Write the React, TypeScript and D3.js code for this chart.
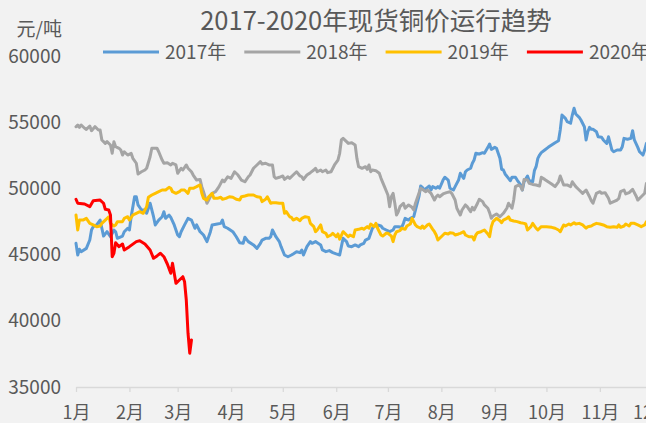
import React, { useRef, useEffect } from 'react';
import * as d3 from 'd3';

const chartTitle = '2017-2020年现货铜价运行趋势';
const unitLabel = '元/吨';
const seriesNames = ['2017年', '2018年', '2019年', '2020年'];
const seriesColors = ['#5b9bd5', '#a5a5a5', '#ffc000', '#ff0000'];
const yTicks = [35000, 40000, 45000, 50000, 55000, 60000];

// [day of year (from Jan 1), spot copper price]
const price2017: [number, number][] = [
  [0, 45850], [1, 44970], [2, 45400], [3, 45220], [6, 45470], [8, 46100], [9, 46860], [10, 47110], [12, 47240], [14, 47610],
  [15, 46990], [16, 46400], [18, 46730], [20, 46350], [22, 46860], [23, 46730], [24, 46230], [27, 46400], [28, 46730], [30, 46990],
  [31, 46860], [32, 47860], [34, 49370], [35, 49370], [36, 48750], [38, 48370], [40, 48370], [41, 48120], [43, 48880], [45, 47860],
  [46, 47240], [48, 47610], [50, 47860], [51, 48240], [52, 47740], [54, 47990], [55, 47810], [57, 47240], [59, 46480], [60, 46350],
  [61, 46730], [63, 47240], [65, 47740], [67, 47610], [69, 46990], [70, 47240], [72, 46730], [74, 46480], [76, 45980], [78, 46730],
  [79, 47240], [82, 47310], [84, 47360], [85, 47610], [86, 47110], [88, 46990], [91, 46730], [93, 46350], [95, 45900], [97, 45850],
  [98, 46310], [100, 45980], [103, 45730], [105, 45470], [107, 45850], [108, 46100], [110, 46230], [112, 46230], [113, 46350], [114, 46860],
  [116, 46350], [118, 45980], [119, 45600], [121, 44970], [123, 44840], [125, 44970], [126, 45050], [128, 45220], [130, 45150], [131, 45350],
  [132, 44970], [134, 45600], [136, 45980], [137, 45850], [139, 45980], [140, 45900], [142, 45730], [143, 45350], [145, 45220], [147, 45300],
  [149, 45150], [151, 45050], [153, 44970], [154, 45600], [155, 46230], [157, 45980], [158, 45650], [160, 45600], [162, 45730], [164, 45600],
  [165, 45730], [167, 45850], [168, 46100], [170, 46230], [171, 46610], [172, 46990], [174, 47240], [175, 47240], [177, 47160], [178, 46990],
  [180, 46860], [182, 46730], [184, 46860], [185, 47110], [187, 47110], [189, 47060], [190, 47360], [191, 47740], [193, 47610], [194, 47740],
  [196, 47860], [197, 48370], [199, 49370], [200, 50180], [201, 50080], [202, 49880], [204, 50080], [205, 50180], [206, 49880], [207, 50130],
  [209, 50010], [210, 50130], [211, 50010], [213, 50630], [214, 50840], [216, 50630], [217, 50010], [219, 49880], [220, 50130], [222, 50630],
  [223, 51140], [225, 50760], [226, 51260], [227, 51390], [229, 51520], [230, 51900], [231, 52140], [232, 52650], [234, 52600], [236, 52700],
  [237, 52650], [239, 53100], [240, 53350], [241, 52950], [243, 53100], [244, 53030], [246, 52270], [247, 51440], [248, 51390], [249, 51090],
  [251, 50760], [252, 50580], [253, 50840], [255, 50840], [256, 50630], [258, 50260], [259, 49880], [260, 50500], [262, 50940], [263, 50580],
  [265, 50500], [266, 51340], [267, 51640], [268, 52270], [269, 52520], [270, 52700], [272, 52900], [274, 53100], [276, 53280], [278, 53450],
  [280, 53600], [281, 54410], [282, 55540], [284, 55290], [285, 55040], [287, 54920], [288, 55540], [289, 56050], [290, 55620], [292, 55370],
  [293, 55170], [295, 54660], [296, 53660], [297, 54280], [298, 54610], [299, 54460], [300, 54460], [302, 54280], [303, 53900], [305, 53860],
  [306, 53660], [308, 53400], [309, 53900], [311, 52900], [312, 52770], [314, 52900], [316, 52900], [317, 53150], [318, 53780], [320, 53710],
  [322, 53780], [323, 54360], [324, 53660], [326, 53100], [327, 52770], [329, 52520], [330, 52900], [331, 53400], [333, 53600],
];

const price2018: [number, number][] = [
  [0, 54660], [1, 54790], [2, 54610], [3, 54790], [5, 54540], [6, 54460], [8, 54710], [9, 54360], [11, 54660], [13, 54410],
  [14, 54410], [15, 53660], [17, 53400], [18, 53530], [20, 53280], [21, 52650], [22, 53530], [23, 53150], [25, 53030], [26, 52900],
  [27, 52520], [28, 52770], [30, 52520], [32, 52650], [33, 52270], [35, 51900], [36, 51090], [38, 51260], [40, 51390], [41, 51520],
  [43, 52390], [44, 53030], [47, 53030], [48, 52770], [50, 52140], [51, 51900], [53, 51940], [55, 51770], [56, 51900], [58, 51770],
  [59, 51140], [61, 51520], [62, 51390], [64, 51770], [65, 51520], [67, 51260], [68, 51010], [70, 50630], [72, 50680], [73, 50130],
  [74, 49750], [76, 48880], [77, 49120], [79, 49630], [81, 49750], [83, 50130], [85, 50630], [86, 50500], [88, 50880], [90, 50760],
  [92, 51260], [94, 51010], [96, 50630], [98, 50500], [100, 50880], [101, 51010], [103, 51520], [105, 51770], [107, 52020], [108, 51840],
  [110, 51900], [112, 51770], [114, 51770], [115, 50880], [116, 50760], [118, 50840], [120, 50940], [121, 50680], [123, 50880], [124, 50760],
  [126, 51010], [128, 51260], [130, 50940], [131, 50880], [132, 50680], [134, 51010], [136, 51190], [138, 51390], [139, 51520], [140, 51260],
  [142, 51390], [143, 51260], [145, 51390], [146, 51190], [148, 51260], [150, 51770], [152, 52140], [153, 52650], [154, 53660], [155, 53780],
  [157, 53530], [158, 53400], [160, 53450], [162, 53280], [163, 52270], [164, 51640], [166, 51520], [168, 51640], [169, 51440], [170, 51770],
  [171, 51260], [172, 51390], [174, 51340], [176, 51140], [177, 50760], [179, 50130], [181, 49500], [182, 48620], [183, 49370], [184, 49630],
  [185, 48880], [186, 47990], [187, 48240], [188, 48620], [190, 48880], [191, 48500], [193, 48750], [195, 48570], [196, 48370], [197, 48880],
  [199, 49630], [200, 50010], [201, 49930], [203, 49750], [204, 49880], [206, 49630], [208, 49120], [209, 49370], [210, 49500], [211, 49370],
  [213, 49580], [215, 49680], [217, 49750], [218, 49630], [220, 49120], [221, 48500], [223, 47990], [224, 48370], [226, 48750], [227, 48620],
  [229, 48240], [230, 48570], [231, 48370], [233, 48880], [234, 49180], [236, 49000], [237, 48750], [239, 48500], [240, 48170], [241, 47740],
  [242, 47920], [244, 48070], [246, 47860], [247, 47990], [248, 48120], [250, 48500], [251, 48880], [253, 48500], [254, 49120], [255, 50130],
  [257, 50260], [258, 50130], [259, 49880], [260, 50680], [262, 50630], [263, 50380], [265, 50300], [267, 50260], [269, 50180], [270, 50840],
  [272, 50680], [274, 50500], [276, 50330], [278, 50130], [280, 50500], [281, 50940], [283, 50260], [285, 50260], [287, 50130], [288, 50500],
  [290, 50130], [292, 49880], [294, 49630], [296, 49880], [298, 49370], [299, 49070], [300, 48880], [302, 49630], [304, 49750], [305, 49630],
  [307, 49680], [309, 49250], [310, 48880], [312, 49000], [314, 49120], [315, 49250], [316, 49750], [318, 49880], [319, 49580], [321, 49680],
  [323, 49930], [325, 49430], [326, 49120], [328, 49370], [330, 49630], [331, 50380], [333, 50500],
];

const price2019: [number, number][] = [
  [0, 47990], [1, 46860], [2, 47610], [4, 47610], [6, 47740], [8, 47360], [10, 47240], [12, 47110], [14, 47160], [15, 47360],
  [17, 47610], [19, 47860], [20, 47360], [22, 47160], [23, 47240], [24, 47490], [27, 47490], [28, 47740], [30, 47860], [31, 47610],
  [33, 47990], [35, 48120], [37, 48240], [39, 48120], [41, 48620], [42, 49330], [44, 49500], [46, 49630], [48, 49750], [50, 49880],
  [52, 49880], [54, 50080], [55, 50010], [56, 49750], [58, 49630], [60, 49750], [61, 49880], [63, 49880], [65, 49630], [66, 50010],
  [68, 50010], [70, 50130], [72, 50260], [73, 49630], [74, 49250], [76, 49120], [77, 49370], [79, 49630], [80, 49250], [82, 49250],
  [84, 49330], [85, 49180], [87, 49250], [89, 49370], [91, 49330], [93, 49180], [95, 49120], [96, 49370], [98, 49430], [100, 49500],
  [103, 49500], [105, 49370], [107, 49330], [108, 49000], [110, 49180], [111, 49370], [113, 48880], [114, 48920], [116, 48920], [118, 48880],
  [120, 48880], [121, 48120], [122, 48240], [124, 47860], [125, 47810], [126, 47610], [128, 47740], [130, 47560], [131, 47740], [133, 47860],
  [135, 47810], [136, 47360], [138, 47110], [139, 46730], [140, 46860], [142, 47240], [143, 46730], [145, 46610], [146, 46350], [148, 46480],
  [149, 46610], [151, 46350], [152, 46560], [153, 46160], [155, 46730], [157, 46480], [158, 46350], [159, 46480], [161, 46350], [162, 46860],
  [164, 46910], [166, 46990], [167, 46910], [169, 47110], [170, 46990], [171, 47310], [173, 47110], [174, 47360], [175, 46990], [177, 46480],
  [178, 46400], [180, 46610], [181, 46610], [183, 46400], [184, 45980], [185, 46480], [186, 46730], [188, 46810], [189, 46990], [191, 46910],
  [192, 47160], [194, 47310], [195, 47740], [197, 47240], [198, 47110], [200, 46990], [201, 47160], [202, 46990], [204, 47240], [205, 47310],
  [207, 46910], [208, 46730], [209, 46480], [210, 46100], [213, 46480], [214, 46610], [216, 46560], [217, 46650], [219, 46610], [220, 46480],
  [222, 46560], [223, 46610], [225, 46730], [226, 46480], [228, 46350], [230, 46350], [231, 46100], [232, 46480], [233, 46650], [235, 46730],
  [237, 46860], [239, 46560], [240, 46350], [241, 47110], [242, 47490], [244, 47740], [246, 47560], [247, 47410], [248, 47610], [250, 47740],
  [251, 47860], [252, 47610], [254, 47540], [256, 47490], [258, 47410], [260, 47360], [261, 47310], [262, 46860], [264, 47110], [265, 47360],
  [267, 46990], [268, 46860], [270, 47110], [271, 47110], [273, 47110], [276, 47060], [278, 46990], [280, 46860], [281, 46730], [283, 47240],
  [284, 47160], [286, 47310], [287, 47240], [289, 47410], [290, 47310], [292, 47360], [294, 47240], [296, 46990], [297, 47110], [299, 47160],
  [300, 47240], [302, 47360], [304, 47310], [306, 47240], [308, 47110], [310, 47060], [312, 47110], [314, 47060], [315, 47240], [316, 47060],
  [318, 47160], [319, 47310], [321, 47160], [322, 47360], [324, 47360], [326, 47240], [328, 47110], [330, 47240], [331, 47490], [333, 47400],
];

const price2020: [number, number][] = [
  [0, 49180], [1, 48880], [5, 48820], [8, 48620], [10, 49070], [14, 49120], [16, 48880], [17, 48420], [19, 48370], [20, 47990],
  [21, 44840], [22, 45100], [23, 45900], [25, 45600], [27, 45800], [28, 45350], [31, 45600], [35, 45980], [37, 46050], [40, 45800],
  [43, 45350], [45, 44720], [47, 44900], [49, 45100], [51, 44840], [53, 44290], [55, 43590], [56, 44340], [58, 42830], [60, 43080],
  [62, 43330], [63, 42950], [64, 41570], [65, 39060], [66, 37550], [67, 38550],
];

const allSeries = [price2017, price2018, price2019, price2020];

export default function App() {
  const svgRef = useRef<SVGSVGElement>(null);
  const width = 646;
  const height = 423;
  const margin = { top: 56, left: 76, bottom: 36 };
  const plotWidth = 629; // the full year runs past the right edge (chart is cropped)

  useEffect(() => {
    const svg = d3.select(svgRef.current);
    svg.selectAll('*').remove();

    const font = "'Noto Sans CJK SC', 'Noto Sans', sans-serif";
    const textColor = '#595959';

    const yearStart = new Date(Date.UTC(2017, 0, 1));
    const yearEnd = new Date(Date.UTC(2018, 0, 1));
    const dayToDate = (d: number) => d3.utcDay.offset(yearStart, d);

    const x = d3.scaleUtc()
      .domain([yearStart, yearEnd])
      .range([margin.left, margin.left + plotWidth]);

    const y = d3.scaleLinear()
      .domain([35000, 60000])
      .range([height - margin.bottom, margin.top]);

    svg.append('rect')
      .attr('width', width)
      .attr('height', height)
      .attr('fill', '#f2f2f2');

    // title
    svg.append('text')
      .attr('x', 376)
      .attr('y', 21)
      .attr('dy', '0.35em')
      .attr('text-anchor', 'middle')
      .attr('font-family', font)
      .attr('font-size', 25.5)
      .attr('fill', textColor)
      .text(chartTitle);

    // unit label
    svg.append('text')
      .attr('x', margin.left - 14)
      .attr('y', 29)
      .attr('dy', '0.35em')
      .attr('text-anchor', 'end')
      .attr('font-family', font)
      .attr('font-size', 19)
      .attr('fill', textColor)
      .text(unitLabel);

    // legend
    const legend = svg.append('g').attr('transform', 'translate(103,52)');
    seriesNames.forEach((name, i) => {
      const g = legend.append('g').attr('transform', `translate(${i * 141.3},0)`);
      g.append('line')
        .attr('x1', 0).attr('x2', 56)
        .attr('stroke', seriesColors[i])
        .attr('stroke-width', 3);
      g.append('text')
        .attr('x', 62)
        .attr('dy', '0.35em')
        .attr('font-family', font)
        .attr('font-size', 19)
        .attr('fill', textColor)
        .text(name);
    });

    // y axis (labels only)
    svg.append('g')
      .attr('transform', `translate(${margin.left - 15},0)`)
      .call(d3.axisLeft(y).tickValues(yTicks).tickFormat(d => String(d)).tickSize(0).tickPadding(0))
      .call(g => g.select('.domain').remove())
      .call(g => g.selectAll('.tick text')
        .attr('font-family', font)
        .attr('font-size', 19)
        .attr('fill', textColor));

    // x axis
    svg.append('g')
      .attr('transform', `translate(0,${y(35000)})`)
      .call(d3.axisBottom(x)
        .tickValues(d3.utcMonth.range(yearStart, yearEnd))
        .tickFormat(d => `${(d as Date).getUTCMonth() + 1}月`)
        .tickSize(5)
        .tickSizeOuter(0)
        .tickPadding(14))
      .call(g => g.select('.domain').attr('stroke', '#d9d9d9').attr('stroke-width', 1.3))
      .call(g => g.selectAll('.tick line').attr('stroke', '#d9d9d9').attr('stroke-width', 1.3))
      .call(g => g.selectAll('.tick text')
        .attr('font-family', font)
        .attr('font-size', 18)
        .attr('fill', textColor));

    const line = d3.line<[number, number]>()
      .x(d => x(dayToDate(d[0])))
      .y(d => y(d[1]));

    allSeries.forEach((series, i) => {
      svg.append('path')
        .datum(series)
        .attr('fill', 'none')
        .attr('stroke', seriesColors[i])
        .attr('stroke-width', 3)
        .attr('stroke-linejoin', 'round')
        .attr('stroke-linecap', 'round')
        .attr('d', line);
    });
  }, []);

  return (
    <svg
      ref={svgRef}
      width={width}
      height={height}
      style={{ position: 'absolute', left: 0, top: 0, display: 'block' }}
    />
  );
}
